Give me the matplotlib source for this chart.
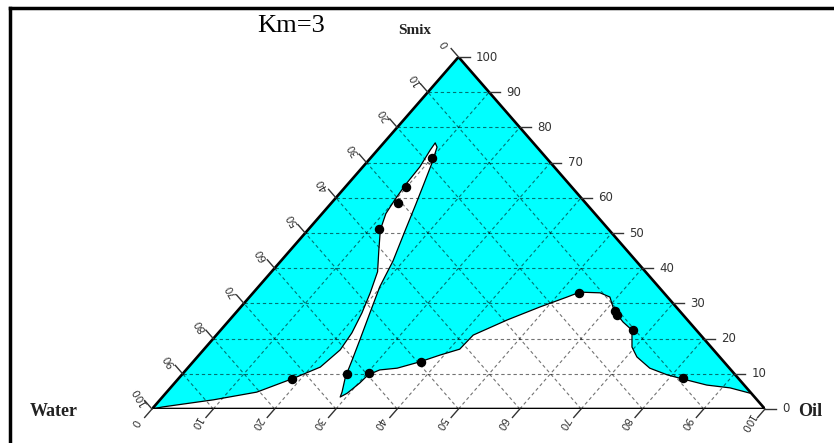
import matplotlib
matplotlib.use('Agg')
import matplotlib.pyplot as plt
from matplotlib.lines import Line2D
import numpy as np

# white (two-phase) region boundary, as (oil %, smix %) pairs
boundary_oil = [0, 1.5, 8.7, 14.7, 18.7, 21.5, 22.3, 21.8, 20.6, 19.1, 17.3, 14.5,
                11.8, 10.4, 9.9, 9.5, 9.3, 8.6, 8.4,
                9.3, 10.7, 12.5, 14.0, 16.0, 18.3, 19.8, 21.9, 24.1, 25.7, 27.0, 28.6, 29.0,
                29.6, 30.2, 30.4, 31.6, 34.2, 37.0, 39.3, 41.7, 41.9, 45.3, 48.8, 51.8,
                53.2, 56.6, 58.8, 60.7, 61.7, 64.5, 67.1, 69.5, 71.7, 75.4, 79.2, 82.4,
                87.1, 91.3, 95.3]
boundary_smix = [0, 0.6, 2.6, 4.8, 8.7, 11.9, 16.8, 21.6, 27.3, 33.0, 39.0, 45.0,
                 50.9, 55.5, 59.4, 63.6, 68.8, 73.6, 75.6,
                 74.4, 70.0, 63.5, 58.0, 50.5, 42.0, 34.7, 27.3, 19.6, 13.9, 9.1, 4.8, 3.4,
                 4.5, 7.4, 9.7, 11.1, 11.6, 13.4, 15.3, 17.0, 21.0, 25.3, 29.0, 31.8,
                 33.2, 33.0, 31.8, 29.0, 27.6, 24.7, 22.4, 17.6, 14.8, 11.6, 9.7, 8.5,
                 6.8, 6.0, 4.5]

# measured points
point_oil = [18.6, 26.8, 30.3, 37.2, 53.2, 61.6, 62.5, 67.3, 82.2, 11.6, 10.9, 9.9, 10.0]
point_smix = [8.6, 9.9, 10.1, 13.4, 33.0, 27.9, 26.7, 22.4, 8.7, 51.0, 58.6, 63.2, 71.2]

tick_values = [0, 10, 20, 30, 40, 50, 60, 70, 80, 90, 100]


def to_xy(oil, smix):
    oil = np.asarray(oil, dtype=float)
    smix = np.asarray(smix, dtype=float)
    return oil + smix / 2, smix


fig = plt.figure(figsize=(8.34, 4.43), dpi=100)
ax = fig.add_axes([152 / 834, 34 / 443, 613 / 834, 352 / 443])
ax.set_xlim(0, 100)
ax.set_ylim(0, 100)
ax.axis('off')

cyan = '#00FFFF'
tri_x, tri_y = to_xy([0, 100, 0], [0, 0, 100])
ax.fill(tri_x, tri_y, color=cyan, zorder=1, lw=0)

# white region: boundary curve, then back along the base
wx, wy = to_xy(boundary_oil + [100, 0], boundary_smix + [0, 0])
ax.fill(wx, wy, color='white', zorder=2, lw=0)

# dashed grid
for k in tick_values[1:-1]:
    gx, gy = to_xy([0, 100 - k], [k, k])
    ax.plot(gx, gy, color='k', alpha=0.55, lw=0.8, ls=(0, (3, 2.5)), zorder=3)
    gx, gy = to_xy([k, k], [0, 100 - k])
    ax.plot(gx, gy, color='k', alpha=0.55, lw=0.8, ls=(0, (3, 2.5)), zorder=3)
    gx, gy = to_xy([100 - k, 0], [0, 100 - k])
    ax.plot(gx, gy, color='k', alpha=0.55, lw=0.8, ls=(0, (3, 2.5)), zorder=3)

# phase boundary
bx, by = to_xy(boundary_oil, boundary_smix)
ax.plot(bx, by, color='k', lw=0.9, zorder=4)

# triangle edges
ex, ey = to_xy([0, 100, 0, 0], [0, 0, 100, 0])
ax.plot(ex, ey, color='k', lw=1.9, zorder=5, solid_joinstyle='miter')

# ticks and labels
tick_col = '#333333'
d = 1.8
for v in tick_values:
    # right edge: smix
    x0, y0 = to_xy(100 - v, v)
    ax.plot([x0, x0 + d], [y0, y0], color=tick_col, lw=1, clip_on=False, zorder=5)
    ax.text(x0 + d + 1.0, y0, str(v), ha='left', va='center', fontsize=8.5,
            color=tick_col, clip_on=False)
    # bottom edge: oil
    x0, y0 = to_xy(v, 0)
    x1, y1 = to_xy(v, -2.4)
    ax.plot([x0, x1], [y0, y1], color=tick_col, lw=1, clip_on=False, zorder=5)
    xl, yl = to_xy(v - 0.2, -3.9)
    ax.text(xl - 0.8, yl, str(v), ha='center', va='center', fontsize=7.5,
            color=tick_col, rotation=240, clip_on=False)
    # left edge: water
    x0, y0 = to_xy(0, 100 - v)
    x1, y1 = to_xy(-2.4, 100 - v + 2.4)
    ax.plot([x0, x1], [y0, y1], color=tick_col, lw=1, clip_on=False, zorder=5)
    xl, yl = to_xy(-4.0, 100 - v + 3.7)
    ax.text(xl, yl, str(v), ha='center', va='center', fontsize=7.5,
            color=tick_col, rotation=120, clip_on=False)

px, py = to_xy(point_oil, point_smix)
ax.plot(px, py, 'o', color='k', ms=5.8, zorder=6)

serif = 'Liberation Serif'
ax.text(22.7, 108.8, 'Km=3', ha='center', va='center', fontsize=19,
        family=serif, clip_on=False)
ax.text(42.9, 107.4, 'Smix', ha='center', va='center', fontsize=11,
        family=serif, fontweight='bold', color='#222222', clip_on=False)
ax.text(-16.0, -0.6, 'Water', ha='center', va='center', fontsize=13,
        family=serif, fontweight='bold', color='#222222', clip_on=False)
ax.text(105.4, -0.6, 'Oil', ha='left', va='center', fontsize=13,
        family=serif, fontweight='bold', color='#222222', clip_on=False)

# outer frame (left and top edges visible)
fig.add_artist(Line2D([10 / 834, 10 / 834], [0, 1 - 8 / 443], color='k', lw=2.5))
fig.add_artist(Line2D([10 / 834, 1], [1 - 8 / 443, 1 - 8 / 443], color='k', lw=2.5))

fig.savefig('out.png', dpi=100)
